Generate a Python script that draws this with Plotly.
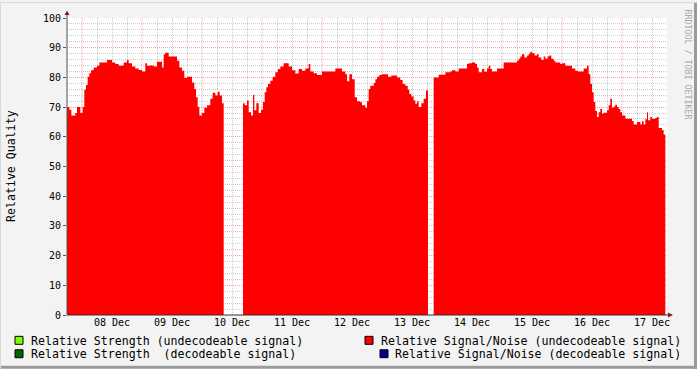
import pandas as pd
import plotly.graph_objects as go

# ---- data (hours since start, relative signal/noise undecodeable) ----
start = "2023-12-07 18:00"
total_hours = 240

hours = [0, 0.93, 1.73, 3.33, 4.0, 5.33, 6.27, 6.93, 7.6, 8.27, 8.93, 9.6, 10.67, 12, 12.93, 14, 16, 18,
         19.33, 20.67, 22.67, 24, 24.67, 26, 27.33, 28.67, 30, 31.33, 32, 33.33, 34.67, 36, 38, 38.67,
         39.33, 40.67, 42.67, 44, 44.93, 46, 46.93, 48, 50, 50.93, 51.6, 52.27, 52.93, 54, 54.93, 56,
         57.33, 58.27, 59.33, 60.27, 61.07, 62, 62.67, 62.68,
         70.4, 71.07, 72, 72.67, 73.6, 74.4, 74.93, 75.73, 76.67, 77.6, 78.4, 79.07, 79.73, 80.4, 81.33,
         82.27, 83.33, 84.4, 85.33, 86.67, 88.67, 90, 91.33, 92.67, 94, 95.33, 96.67, 97.33, 98.67, 100,
         102, 107.33, 110, 111.33, 112, 112.93, 114, 115.07, 116, 117.33, 118, 119.33, 120, 120.67,
         121.33, 122.67, 123.33, 124, 124.93, 126, 128.4, 129.73, 132, 133.33, 134.27, 135.33, 136.27,
         136.93, 137.73, 138.67, 139.33, 140, 140.67, 141.73, 142.67, 143.6, 144.4, 144.41,
         146.67, 148.67, 151.33, 153.33, 154, 155.33, 156.67, 160, 160.67, 162, 163.33, 164, 164.67,
         166, 166.93, 168, 168.67, 169.33, 170, 172, 174.67, 180, 180.67, 181.33, 182, 182.93, 184,
         184.67, 185.33, 186, 187.07, 188, 188.67, 189.73, 190.67, 191.33, 192.27, 192.93, 193.73,
         194.67, 195.33, 197.33, 198, 199.33, 202, 203.33, 204.27, 206.67, 208, 208.67, 209.33, 210,
         210.67, 211.33, 212, 212.67, 213.33, 214, 214.67, 216, 216.67, 217.33, 218, 218.67, 219.33,
         220, 220.67, 221.33, 222, 223.33, 226, 226.67, 228, 229.33, 230, 230.67, 231.33, 232, 232.4,
         233.33, 234, 235.33, 236, 236.67, 238, 238.67, 239.33]

snr = [70, 69.1, 67.2, 68, 70, 68, 70, 75.8, 77.4, 80.2, 81.4, 82.4, 83.3, 83.9, 85, 85, 85.9, 85,
       84.5, 83.9, 85, 85.9, 84.8, 83.7, 83, 82.5, 82, 84.8, 83.9, 84, 83.7, 85.3, 83.3, 87.8,
       88.3, 87, 87, 85.6, 83.3, 82.2, 79.8, 80.2, 78.3, 76.1, 73.3, 70, 67.2, 68, 69.8, 70.6,
       72.8, 74.8, 73.9, 75.2, 73.9, 71.3, 71.3, None,
       71.3, 70.6, 72.2, 68.3, 67.2, 74.2, 68.9, 71.3, 68, 69.1, 71.7, 75, 76.7, 77.8, 78.9,
       80.2, 81.7, 82.8, 83.7, 84.8, 83.7, 82.4, 81.3, 82.8, 82.2, 83, 84.5, 82, 81.4, 80.8,
       82, 83, 82, 81.1, 78.7, 81.1, 79.4, 73.3, 72, 71.6, 70.6, 69.8, 72, 76.1,
       77.2, 78.1, 79.4, 80.2, 80.8, 81.1, 80.2, 80.6, 80, 79.1, 77.8, 77.2, 75.9,
       74.4, 73.6, 72.2, 71.1, 71.9, 70, 71.3, 72.8, 75.6, 75.6, None,
       80, 80.9, 81.7, 82, 82.4, 82, 83, 84.5, 84.8, 85, 84.5, 83.3, 81.7,
       82.8, 81.9, 83, 83.9, 82.8, 82, 83, 85, 85.6, 86.3, 87, 87.8, 86.7, 87.4,
       88, 88.6, 88.1, 87.4, 87.8, 86.7, 85.9, 87, 86.3, 87, 87.4, 86.3,
       85.6, 85, 84.5, 84.8, 83.9, 83, 82.2, 82, 83, 83.9, 81.1, 77.8, 75,
       71.7, 68.7, 66.7, 68.3, 69.4, 67.8, 68.1, 68.9, 70.6, 72.8, 69.8, 70.2, 70.8,
       70, 69.4, 68.3, 67.2, 66.1, 65.3, 64.1, 65, 64.1, 65.2, 64.1, 65.9, 68.3, 65.6,
       66.7, 66.1, 66.3, 66.7, 63, 62.2, 60.8, 60.8]

legend_labels = ["Relative Strength (undecodeable signal)",
                 "Relative Strength  (decodeable signal)",
                 "Relative Signal/Noise (undecodeable signal)",
                 "Relative Signal/Noise (decodeable signal)"]
legend_colors = ["#80FF00", "#006600", "#FF0000", "#000099"]

y_title = "Relative Quality"
watermark = "RRDTOOL / TOBI OETIKER"

# ---- build ----
t0 = pd.Timestamp(start)
times = [t0 + pd.Timedelta(hours=h) for h in hours]
t_end = t0 + pd.Timedelta(hours=total_hours)

# split into continuous segments at gaps (None)
segments = []
cur_x, cur_y = [], []
for t, v in zip(times, snr):
    if v is None:
        if cur_x:
            segments.append((cur_x, cur_y))
        cur_x, cur_y = [], []
    else:
        cur_x.append(t)
        cur_y.append(v)
if cur_x:
    segments.append((cur_x, cur_y))

W, H = 697, 369
L, R, T, B = 67, 667, 16, 315


def xp(px):
    return (px - L) / (R - L)


def yp(py):
    return (B - py) / (B - T)


mono = "DejaVu Sans Mono"

fig = go.Figure()
for sx, sy in segments:
    fig.add_trace(go.Scatter(x=sx, y=sy, mode="lines", line=dict(shape="hv", width=0, color="#FF0000"),
                             fill="tozeroy", fillcolor="#FF0000", showlegend=False, hoverinfo="skip"))

grid_major = "rgba(225,90,90,0.55)"
grid_minor = "rgba(140,140,140,0.45)"
gdash = "1px,1px"

first_midnight = t0.normalize() + pd.Timedelta(days=1)
day_lines = pd.date_range(first_midnight, t_end, freq="D")
label_times = [d + pd.Timedelta(hours=12) for d in day_lines if d + pd.Timedelta(hours=12) <= t_end]
label_text = [d.strftime("%d %b") for d in label_times]
six_h = [d for d in pd.date_range(t0, t_end, freq="6h") if d.hour != 0]

fig.update_layout(
    width=W, height=H, autosize=False,
    margin=dict(l=L, r=W - R, t=T, b=H - B, pad=0),
    paper_bgcolor="#F3F3F3", plot_bgcolor="#FFFFFF",
    showlegend=False,
    font=dict(family=mono, size=10, color="#000000"),
    xaxis=dict(type="date", range=[t0, t_end], tickmode="array", tickvals=label_times,
               ticktext=label_text, showgrid=False, ticks="", showline=False, zeroline=False,
               tickfont=dict(family=mono, size=10, color="#000000"),
               minor=dict(tickmode="array", tickvals=six_h, showgrid=True, gridcolor=grid_minor,
                          griddash=gdash, ticks="")),
    yaxis=dict(range=[0, 100], dtick=10, tick0=0, showgrid=True, gridcolor=grid_major,
               griddash=gdash, gridwidth=1, ticks="outside", ticklen=3, tickcolor="#555555",
               showline=False, zeroline=False,
               tickfont=dict(family=mono, size=10, color="#000000"),
               minor=dict(dtick=2, showgrid=True, gridcolor=grid_minor, griddash=gdash)),
)

shapes = []
# daily major grid lines
for d in day_lines:
    shapes.append(dict(type="line", xref="x", yref="paper", x0=d, x1=d, y0=0, y1=1, layer="below",
                       line=dict(color=grid_major, width=1, dash=gdash)))
# axes lines
shapes.append(dict(type="line", xref="paper", yref="paper", x0=xp(67), x1=xp(670), y0=0, y1=0,
                   line=dict(color="#333333", width=1)))
shapes.append(dict(type="line", xref="paper", yref="paper", x0=0, x1=0, y0=0, y1=yp(12),
                   line=dict(color="#555555", width=1)))
# arrows
shapes.append(dict(type="path", xref="paper", yref="paper",
                   path=f"M {xp(64.5)} {yp(13)} L {xp(69.5)} {yp(13)} L {xp(67)} {yp(8.5)} Z",
                   fillcolor="#8B1A1A", line=dict(width=0)))
shapes.append(dict(type="path", xref="paper", yref="paper",
                   path=f"M {xp(668)} {yp(312.5)} L {xp(668)} {yp(317.5)} L {xp(673)} {yp(315)} Z",
                   fillcolor="#8B1A1A", line=dict(width=0)))
# outer frame (shade)
shapes.append(dict(type="line", xref="paper", yref="paper", x0=xp(0), x1=xp(697), y0=yp(367.5), y1=yp(367.5),
                   line=dict(color="#9A9A9A", width=3)))
shapes.append(dict(type="line", xref="paper", yref="paper", x0=xp(695.5), x1=xp(695.5), y0=yp(0), y1=yp(369),
                   line=dict(color="#9A9A9A", width=3)))
shapes.append(dict(type="line", xref="paper", yref="paper", x0=xp(0), x1=xp(697), y0=yp(0.5), y1=yp(0.5),
                   line=dict(color="#D8D8D8", width=1)))
shapes.append(dict(type="line", xref="paper", yref="paper", x0=xp(0.5), x1=xp(0.5), y0=yp(0), y1=yp(369),
                   line=dict(color="#D8D8D8", width=1)))

annotations = []
# legend
leg_pos = [(15, 341, 30), (15, 354.5, 30), (365, 341, 380), (380, 354.5, 394)]
for (sx, cy, tx), lab, col in zip(leg_pos, legend_labels, legend_colors):
    shapes.append(dict(type="rect", xref="paper", yref="paper", x0=xp(sx), x1=xp(sx + 8),
                       y0=yp(cy - 4.5), y1=yp(cy + 3.5), fillcolor=col,
                       line=dict(color="#000000", width=1)))
    annotations.append(dict(text=lab, xref="paper", yref="paper", x=xp(tx - 1), y=yp(cy),
                            xanchor="left", yanchor="middle", showarrow=False,
                            font=dict(family=mono, size=11.6, color="#000000")))

annotations.append(dict(text=y_title, xref="paper", yref="paper", x=xp(11), y=yp(165),
                        textangle=-90, xanchor="center", yanchor="middle", showarrow=False,
                        font=dict(family=mono, size=11.6, color="#000000")))
annotations.append(dict(text=watermark, xref="paper", yref="paper", x=xp(687.5), y=yp(5),
                        textangle=90, xanchor="center", yanchor="top", showarrow=False,
                        font=dict(family=mono, size=8.3, color="#A8A8A8")))

fig.update_layout(shapes=shapes, annotations=annotations)
fig.write_html("out.html")
